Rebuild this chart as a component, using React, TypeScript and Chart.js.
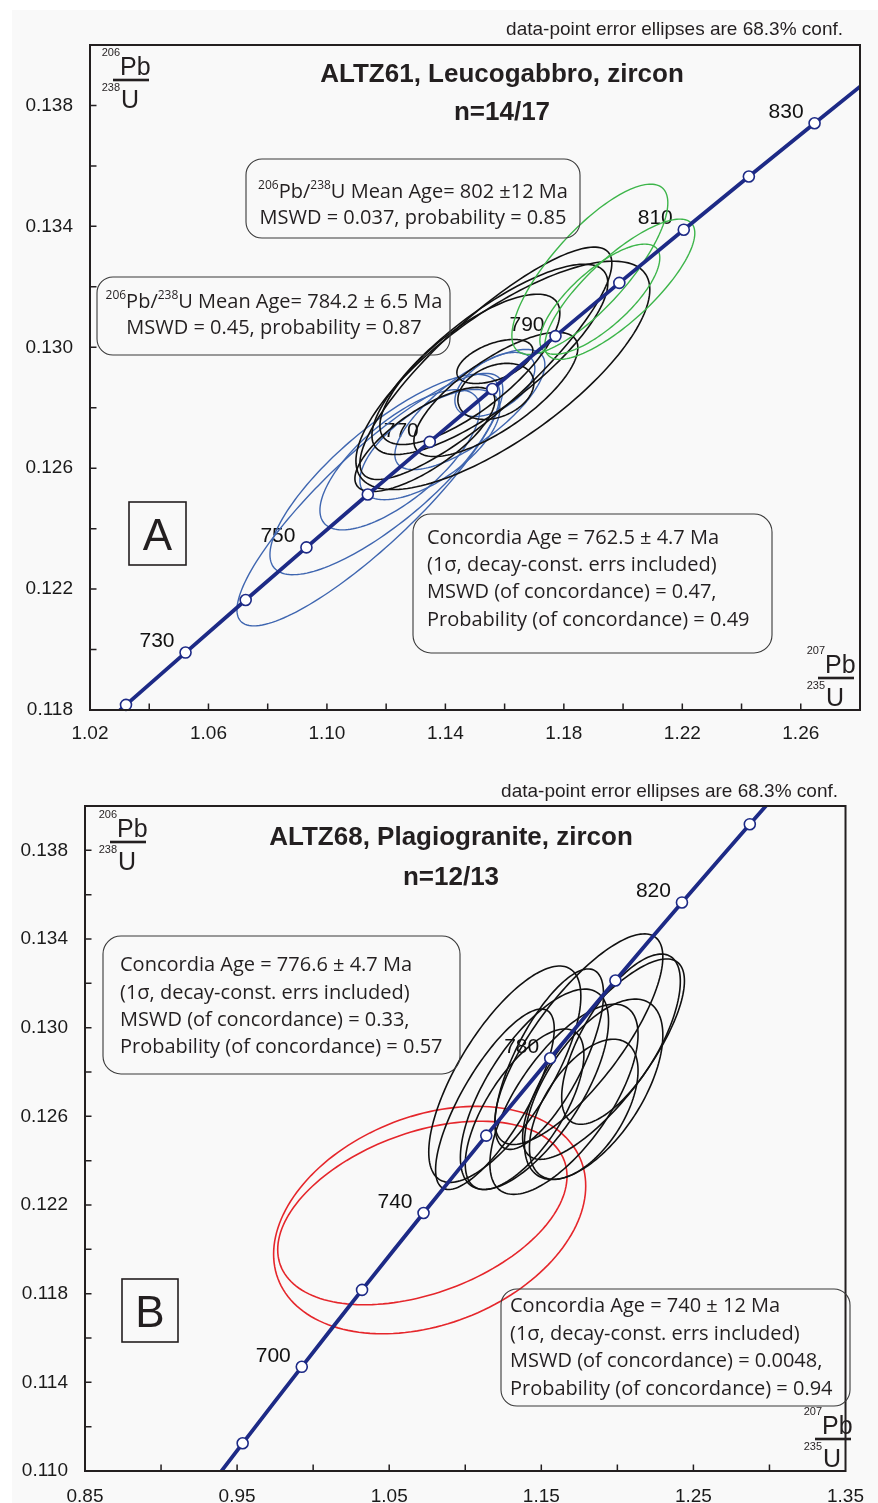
import React, { useEffect, useRef } from 'react';
import { Chart, registerables } from 'chart.js';

Chart.register(...registerables);

// ---------- Concordia curve (Wetherill), ages in Ma ----------
const concordiaAges = [660, 670, 680, 690, 700, 710, 720, 730, 740, 750, 760, 770, 780, 790, 800, 810, 820, 830, 840, 850];
const concordia207Pb235U = [0.91554, 0.9345, 0.95365, 0.97298, 0.99251, 1.01223, 1.03215, 1.05226, 1.07257, 1.09308, 1.1138, 1.13472, 1.15585, 1.17718, 1.19873, 1.22049, 1.24247, 1.26466, 1.28708, 1.30971];
const concordia206Pb238U = [0.10781, 0.10953, 0.11125, 0.11297, 0.1147, 0.11643, 0.11817, 0.1199, 0.12164, 0.12338, 0.12513, 0.12687, 0.12862, 0.13037, 0.13213, 0.13389, 0.13565, 0.13741, 0.13918, 0.14094];

const markerAgesA = [720, 730, 740, 750, 760, 770, 780, 790, 800, 810, 820, 830];
const labelAgesA = [730, 750, 770, 790, 810, 830];
const markerAgesB = [680, 700, 720, 740, 760, 780, 800, 820, 840];
const labelAgesB = [700, 740, 780, 820];

// ---------- Error ellipses: [207Pb/235U, 1σ, 206Pb/238U, 1σ, rho] ----------
const ellipsesABlue = [
  [1.11451, 0.04489, 0.12496, 0.004176, 0.873],
  [1.11958, 0.03882, 0.12579, 0.003314, 0.8],
  [1.12464, 0.027, 0.12628, 0.00232, 0.72],
  [1.13477, 0.02363, 0.12678, 0.001823, 0.65],
  [1.14827, 0.02532, 0.12794, 0.001988, 0.75],
  [1.15671, 0.0135, 0.12877, 0.00106, 0.5],
];
const ellipsesABlack = [
  [1.15941, 0.04962, 0.12907, 0.003778, 0.75],
  [1.15367, 0.04253, 0.12947, 0.003844, 0.86],
  [1.15705, 0.02768, 0.12844, 0.002055, 0.75],
  [1.15502, 0.03983, 0.1296, 0.003148, 0.8],
  [1.14827, 0.03038, 0.12927, 0.002486, 0.75],
  [1.15671, 0.01283, 0.12953, 0.000729, 0.5],
  [1.15705, 0.01283, 0.12854, 0.000928, 0.3],
  [1.13308, 0.02363, 0.12695, 0.001723, 0.75],
];
const ellipsesAGreen = [
  [1.18878, 0.02633, 0.13258, 0.002817, 0.78],
  [1.1989, 0.02532, 0.13192, 0.00232, 0.8],
  [1.19215, 0.02025, 0.13159, 0.001823, 0.75],
];
const ellipsesBBlack = [
  [1.1747, 0.0552, 0.12948, 0.00475, 0.78],
  [1.1909, 0.0532, 0.12858, 0.00452, 0.78],
  [1.126, 0.05, 0.1279, 0.00488, 0.72],
  [1.1455, 0.0487, 0.12722, 0.00452, 0.68],
  [1.1649, 0.0487, 0.12677, 0.00429, 0.68],
  [1.1844, 0.0455, 0.12722, 0.00407, 0.6],
  [1.1552, 0.0357, 0.12858, 0.00407, 0.72],
  [1.139, 0.039, 0.12632, 0.00362, 0.68],
  [1.1779, 0.0357, 0.12632, 0.00316, 0.55],
  [1.1195, 0.039, 0.12677, 0.00407, 0.78],
  [1.2024, 0.039, 0.12948, 0.00384, 0.68],
];
const ellipsesBRed = [
  [1.0766, 0.1026, 0.12132, 0.00513, 0.3],
  [1.0718, 0.0951, 0.12164, 0.00414, 0.4],
];

// ---------- Axis ticks ----------
const xTicksA = [1.02, 1.04, 1.06, 1.08, 1.1, 1.12, 1.14, 1.16, 1.18, 1.2, 1.22, 1.24, 1.26, 1.28];
const xLabelsA = [1.02, 1.06, 1.1, 1.14, 1.18, 1.22, 1.26];
const yTicksA = [0.118, 0.12, 0.122, 0.124, 0.126, 0.128, 0.13, 0.132, 0.134, 0.136, 0.138, 0.14];
const yLabelsA = [0.118, 0.122, 0.126, 0.13, 0.134, 0.138];
const xTicksB = [0.85, 0.9, 0.95, 1.0, 1.05, 1.1, 1.15, 1.2, 1.25, 1.3, 1.35];
const xLabelsB = [0.85, 0.95, 1.05, 1.15, 1.25, 1.35];
const yTicksB = [0.11, 0.112, 0.114, 0.116, 0.118, 0.12, 0.122, 0.124, 0.126, 0.128, 0.13, 0.132, 0.134, 0.136, 0.138, 0.14];
const yLabelsB = [0.11, 0.114, 0.118, 0.122, 0.126, 0.13, 0.134, 0.138];

const NAVY = '#1d2a86';
const INK = '#231f20';
const SANS = '"Liberation Sans", Arial, Helvetica, sans-serif';
const BOXFONT = '"Open Sans", "Noto Sans", sans-serif';

type Box = { x1: number; y1: number; x2: number; y2: number; r: number; lines: string[]; align: 'left' | 'center'; textX: number; lineY: number[] };
type Panel = {
  top: number;
  height: number;
  area: { left: number; top: number; right: number; bottom: number };
  xMin: number; xMax: number; yMin: number; yMax: number;
  xTicks: number[]; xLabels: number[]; xDigits: number;
  yTicks: number[]; yLabels: number[]; yDigits: number;
  xPad: number; yPad: number;
  markerAges: number[]; labelAges: number[];
  ellipses: { data: number[][]; color: string; width: number }[];
  note: { x: number; y: number; text: string };
  title: { x: number; y: number[]; lines: string[] };
  boxes: Box[];
  letter: { x1: number; y1: number; x2: number; y2: number; text: string };
  fracs: { x: number; barY: number; top: string; bottom: string }[];
};

const panelA: Panel = {
  top: 0,
  height: 760,
  area: { left: 90, top: 45, right: 860, bottom: 710 },
  xMin: 1.02, xMax: 1.28, yMin: 0.118, yMax: 0.14,
  xTicks: xTicksA, xLabels: xLabelsA, xDigits: 2,
  yTicks: yTicksA, yLabels: yLabelsA, yDigits: 3,
  xPad: 12, yPad: 17,
  markerAges: markerAgesA, labelAges: labelAgesA,
  ellipses: [
    { data: ellipsesABlue, color: '#3f66b0', width: 1.4 },
    { data: ellipsesABlack, color: '#111111', width: 1.6 },
    { data: ellipsesAGreen, color: '#3db54a', width: 1.4 },
  ],
  note: { x: 843, y: 30, text: 'data-point error ellipses are 68.3% conf.' },
  title: { x: 502, y: [75, 113], lines: ['ALTZ61, Leucogabbro, zircon', 'n=14/17'] },
  boxes: [
    { x1: 246, y1: 159, x2: 580, y2: 238, r: 16, align: 'center', textX: 413, lineY: [192, 218], lines: ['^206Pb/^238U Mean Age= 802 ±12 Ma', 'MSWD = 0.037, probability = 0.85'] },
    { x1: 97, y1: 277, x2: 450, y2: 355, r: 16, align: 'center', textX: 274, lineY: [302, 328], lines: ['^206Pb/^238U Mean Age= 784.2 ± 6.5 Ma', 'MSWD = 0.45, probability = 0.87'] },
    { x1: 413, y1: 514, x2: 772, y2: 653, r: 18, align: 'left', textX: 427, lineY: [538, 565, 592, 620], lines: ['Concordia Age = 762.5 ± 4.7 Ma', '(1σ, decay-const. errs included)', 'MSWD (of concordance) = 0.47,', 'Probability (of concordance) = 0.49'] },
  ],
  letter: { x1: 129, y1: 502, x2: 186, y2: 565, text: 'A' },
  fracs: [
    { x: 120, barY: 80, top: '206', bottom: '238' },
    { x: 825, barY: 678, top: '207', bottom: '235' },
  ],
};

const panelB: Panel = {
  top: 760,
  height: 743,
  area: { left: 85, top: 806, right: 855, bottom: 1471 },
  xMin: 0.85, xMax: 1.35, yMin: 0.11, yMax: 0.14,
  xTicks: xTicksB, xLabels: xLabelsB, xDigits: 2,
  yTicks: yTicksB, yLabels: yLabelsB, yDigits: 3,
  xPad: 14, yPad: 17,
  markerAges: markerAgesB, labelAges: labelAgesB,
  ellipses: [
    { data: ellipsesBRed, color: '#e5262b', width: 1.6 },
    { data: ellipsesBBlack, color: '#111111', width: 1.6 },
  ],
  note: { x: 838, y: 792, text: 'data-point error ellipses are 68.3% conf.' },
  title: { x: 451, y: [838, 878], lines: ['ALTZ68, Plagiogranite, zircon', 'n=12/13'] },
  boxes: [
    { x1: 103, y1: 936, x2: 460, y2: 1074, r: 18, align: 'left', textX: 120, lineY: [965, 993, 1020, 1047], lines: ['Concordia Age = 776.6 ± 4.7 Ma', '(1σ, decay-const. errs included)', 'MSWD (of concordance) = 0.33,', 'Probability (of concordance) = 0.57'] },
    { x1: 501, y1: 1289, x2: 850, y2: 1406, r: 16, align: 'left', textX: 510, lineY: [1306, 1334, 1361, 1389], lines: ['Concordia Age = 740 ± 12 Ma', '(1σ, decay-const. errs included)', 'MSWD (of concordance) = 0.0048,', 'Probability (of concordance) = 0.94'] },
  ],
  letter: { x1: 122, y1: 1279, x2: 178, y2: 1342, text: 'B' },
  fracs: [
    { x: 117, barY: 842, top: '206', bottom: '238' },
    { x: 822, barY: 1439, top: '207', bottom: '235' },
  ],
};

function labelFor(list: number[], v: number, d: number): string {
  const hit = list.find((l) => Math.abs(l - v) < 1e-9);
  return hit === undefined ? '' : hit.toFixed(d);
}

function roundRect(ctx: CanvasRenderingContext2D, x1: number, y1: number, x2: number, y2: number, r: number) {
  ctx.beginPath();
  ctx.moveTo(x1 + r, y1);
  ctx.lineTo(x2 - r, y1);
  ctx.arcTo(x2, y1, x2, y1 + r, r);
  ctx.lineTo(x2, y2 - r);
  ctx.arcTo(x2, y2, x2 - r, y2, r);
  ctx.lineTo(x1 + r, y2);
  ctx.arcTo(x1, y2, x1, y2 - r, r);
  ctx.lineTo(x1, y1 + r);
  ctx.arcTo(x1, y1, x1 + r, y1, r);
  ctx.closePath();
}

function drawRich(ctx: CanvasRenderingContext2D, text: string, x: number, y: number, align: 'left' | 'center', size: number) {
  const parts = text.split(/(\^\d+)/).filter((s) => s.length > 0).map((s) => (s[0] === '^' ? { t: s.slice(1), sup: true } : { t: s, sup: false }));
  const supSize = Math.round(size * 0.6);
  const widths = parts.map((p) => {
    ctx.font = `${p.sup ? supSize : size}px ${BOXFONT}`;
    return ctx.measureText(p.t).width;
  });
  const total = widths.reduce((a, b) => a + b, 0);
  let cx = align === 'left' ? x : x - total / 2;
  ctx.textAlign = 'left';
  ctx.textBaseline = 'middle';
  parts.forEach((p, i) => {
    ctx.font = `${p.sup ? supSize : size}px ${BOXFONT}`;
    ctx.fillText(p.t, cx, p.sup ? y - size * 0.3 : y);
    cx += widths[i];
  });
}

function decorPlugin(p: Panel) {
  const oy = p.top;
  return {
    id: 'decor',
    beforeDatasetsDraw(chart: any) {
      const { ctx, chartArea: ca, scales } = chart;
      const xs = scales.x;
      const ys = scales.y;
      ctx.save();
      ctx.beginPath();
      ctx.rect(ca.left, ca.top, ca.right - ca.left, ca.bottom - ca.top);
      ctx.clip();
      // age labels along concordia
      ctx.font = `21px ${SANS}`;
      ctx.fillStyle = '#111';
      ctx.textAlign = 'right';
      ctx.textBaseline = 'middle';
      p.labelAges.forEach((a) => {
        const i = concordiaAges.indexOf(a);
        const px = xs.getPixelForValue(concordia207Pb235U[i]);
        const py = ys.getPixelForValue(concordia206Pb238U[i]);
        ctx.fillText(String(a), px - 11, py - 11);
      });
      // error ellipses
      p.ellipses.forEach((g) => {
        ctx.strokeStyle = g.color;
        ctx.lineWidth = g.width;
        g.data.forEach(([cx, sx, cy, sy, r]) => {
          const k = Math.sqrt(1 - r * r);
          ctx.beginPath();
          for (let i = 0; i <= 160; i++) {
            const t = (i / 160) * Math.PI * 2;
            const px = xs.getPixelForValue(cx + sx * Math.cos(t));
            const py = ys.getPixelForValue(cy + sy * (r * Math.cos(t) + k * Math.sin(t)));
            if (i === 0) ctx.moveTo(px, py);
            else ctx.lineTo(px, py);
          }
          ctx.closePath();
          ctx.stroke();
        });
      });
      ctx.restore();
    },
    afterDraw(chart: any) {
      const { ctx, chartArea: ca, scales } = chart;
      const xs = scales.x;
      const ys = scales.y;
      ctx.save();
      // frame
      ctx.strokeStyle = INK;
      ctx.lineWidth = 2;
      ctx.strokeRect(ca.left, ca.top, ca.right - ca.left, ca.bottom - ca.top);
      // inward tick marks
      ctx.lineWidth = 1.5;
      ctx.beginPath();
      xs.ticks.forEach((t: any) => {
        const px = xs.getPixelForValue(t.value);
        if (px <= ca.left + 1 || px >= ca.right - 1) return;
        ctx.moveTo(px, ca.bottom);
        ctx.lineTo(px, ca.bottom - 6.5);
      });
      ys.ticks.forEach((t: any) => {
        const py = ys.getPixelForValue(t.value);
        if (py <= ca.top + 1 || py >= ca.bottom - 1) return;
        ctx.moveTo(ca.left, py);
        ctx.lineTo(ca.left + 6.5, py);
      });
      ctx.stroke();

      ctx.fillStyle = INK;
      // note
      ctx.font = `19px ${SANS}`;
      ctx.textAlign = 'right';
      ctx.textBaseline = 'middle';
      ctx.fillText(p.note.text, p.note.x, p.note.y - oy);
      // title
      ctx.font = `bold 26px ${SANS}`;
      ctx.textAlign = 'center';
      p.title.lines.forEach((l, i) => ctx.fillText(l, p.title.x, p.title.y[i] - oy));
      // boxes
      p.boxes.forEach((b) => {
        ctx.strokeStyle = '#3a3a3a';
        ctx.lineWidth = 1.1;
        roundRect(ctx, b.x1, b.y1 - oy, b.x2, b.y2 - oy, b.r);
        ctx.stroke();
        ctx.fillStyle = INK;
        b.lines.forEach((l, i) => drawRich(ctx, l, b.textX, b.lineY[i] - oy, b.align, 20));
      });
      // panel letter
      const L = p.letter;
      ctx.strokeStyle = INK;
      ctx.lineWidth = 1.6;
      ctx.strokeRect(L.x1, L.y1 - oy, L.x2 - L.x1, L.y2 - L.y1);
      ctx.fillStyle = INK;
      ctx.font = `44px ${SANS}`;
      ctx.textAlign = 'center';
      ctx.textBaseline = 'alphabetic';
      ctx.fillText(L.text, (L.x1 + L.x2) / 2, (L.y1 + L.y2) / 2 - oy + 16);
      // ratio axis labels
      p.fracs.forEach((f) => {
        const by = f.barY - oy;
        ctx.fillStyle = INK;
        ctx.textAlign = 'left';
        ctx.textBaseline = 'alphabetic';
        ctx.font = `25px ${SANS}`;
        ctx.fillText('Pb', f.x, by - 5);
        ctx.fillText('U', f.x + 1, by + 28);
        ctx.font = `11px ${SANS}`;
        ctx.textAlign = 'right';
        ctx.textBaseline = 'middle';
        ctx.fillText(f.top, f.x, by - 27);
        ctx.fillText(f.bottom, f.x, by + 8);
        ctx.fillRect(f.x - 7, by - 1.3, 36, 2.6);
      });
      ctx.restore();
    },
  };
}

function PanelChart({ p }: { p: Panel }) {
  const ref = useRef<HTMLCanvasElement | null>(null);
  useEffect(() => {
    if (!ref.current) return;
    const line = concordiaAges.map((a, i) => ({ x: concordia207Pb235U[i], y: concordia206Pb238U[i] }));
    const markers = p.markerAges.map((a) => {
      const i = concordiaAges.indexOf(a);
      return { x: concordia207Pb235U[i], y: concordia206Pb238U[i] };
    });
    const tickFont = { family: SANS, size: 19 };
    const chart = new Chart(ref.current, {
      type: 'scatter',
      data: {
        datasets: [
          {
            data: markers,
            pointRadius: 5.5,
            pointBackgroundColor: '#ffffff',
            pointBorderColor: NAVY,
            pointBorderWidth: 1.6,
            showLine: false,
            clip: 10,
          } as any,
          {
            data: line,
            showLine: true,
            borderColor: NAVY,
            borderWidth: 3.8,
            pointRadius: 0,
            fill: false,
            tension: 0,
            clip: 0,
          } as any,
        ],
      },
      options: {
        animation: false,
        responsive: false,
        maintainAspectRatio: false,
        events: [],
        layout: { padding: { top: p.area.top - p.top, right: 878 - p.area.right, left: 0, bottom: 0 } },
        plugins: { legend: { display: false }, tooltip: { enabled: false }, title: { display: false } },
        scales: {
          x: {
            type: 'linear',
            position: 'bottom',
            min: p.xMin,
            max: p.xMax,
            afterBuildTicks: (s: any) => {
              s.ticks = p.xTicks.map((v) => ({ value: v }));
            },
            afterFit: (s: any) => {
              s.height = p.top + p.height - p.area.bottom;
            },
            grid: { display: false, drawTicks: false },
            border: { display: false },
            ticks: {
              autoSkip: false,
              maxRotation: 0,
              minRotation: 0,
              padding: p.xPad,
              color: '#1a1a1a',
              font: tickFont,
              callback: (v: any) => labelFor(p.xLabels, Number(v), p.xDigits),
            },
          },
          y: {
            type: 'linear',
            position: 'left',
            min: p.yMin,
            max: p.yMax,
            afterBuildTicks: (s: any) => {
              s.ticks = p.yTicks.map((v) => ({ value: v }));
            },
            afterFit: (s: any) => {
              s.width = p.area.left;
            },
            grid: { display: false, drawTicks: false },
            border: { display: false },
            ticks: {
              autoSkip: false,
              padding: p.yPad,
              color: '#1a1a1a',
              font: tickFont,
              callback: (v: any) => labelFor(p.yLabels, Number(v), p.yDigits),
            },
          },
        },
      } as any,
      plugins: [decorPlugin(p) as any],
    });
    return () => chart.destroy();
  }, [p]);
  return (
    <canvas
      ref={ref}
      width={878}
      height={p.height}
      style={{ position: 'absolute', left: 0, top: p.top, width: 878, height: p.height }}
    />
  );
}

export default function App() {
  return (
    <div style={{ position: 'absolute', left: 0, top: 0, width: 878, height: 1503, background: '#ffffff', overflow: 'hidden' }}>
      <div style={{ position: 'absolute', left: 12, top: 10, width: 866, height: 1493, background: '#f9f9f9' }} />
      <PanelChart p={panelA} />
      <PanelChart p={panelB} />
    </div>
  );
}
